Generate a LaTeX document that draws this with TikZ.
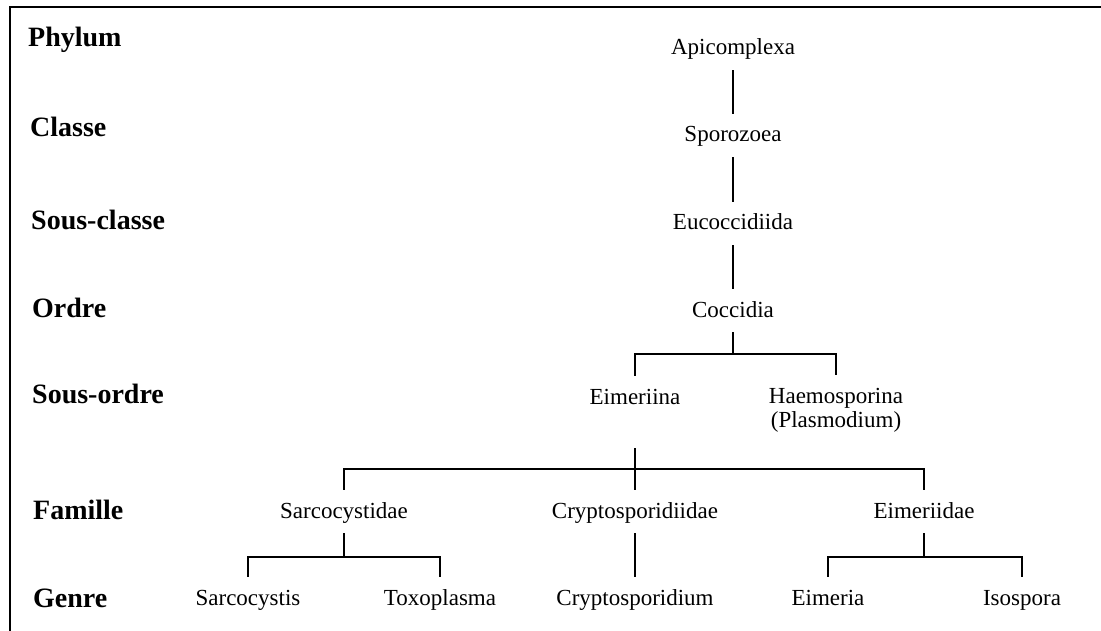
\documentclass[tikz,border=0pt]{standalone}
\usepackage{fontspec}
\setmainfont{Liberation Serif}
\begin{document}
\begin{tikzpicture}[x=1pt,y=-1pt,
  taxon/.style={font=\fontsize{23}{27}\selectfont, inner xsep=0pt, inner ysep=10pt,
    text height=18pt, text depth=5pt, anchor=base},
  rank/.style={font=\fontsize{28}{32}\selectfont\bfseries, inner sep=0pt, anchor=base west},
  link/.style={line width=1.1pt},
  frame/.style={line width=2.4pt}]
\useasboundingbox (0,0) rectangle (1101,631);
% frame
\draw[frame] (10,631) -- (10,7) -- (1101,7);
% rank labels
\node[rank] (r1) at (28,47)  {Phylum};
\node[rank] (r2) at (30,137) {Classe};
\node[rank] (r3) at (31,230) {Sous-classe};
\node[rank] (r4) at (32,317) {Ordre};
\node[rank] (r5) at (32,403) {Sous-ordre};
\node[rank] (r6) at (33,519) {Famille};
\node[rank] (r7) at (33,607) {Genre};
% taxa
\node[taxon] (api) at (733,55)  {Apicomplexa};
\node[taxon] (spo) at (733,142) {Sporozoea};
\node[taxon] (euc) at (733,230) {Eucoccidiida};
\node[taxon] (coc) at (733,317) {Coccidia};
\node[taxon] (eim) at (635,404) {Eimeriina};
\node[taxon] (hae) at (836,403) {Haemosporina};
\node[taxon] (pla) at (836,427) {(Plasmodium)};
\node[taxon] (sar) at (344,518) {Sarcocystidae};
\node[taxon] (cry) at (635,518) {Cryptosporidiidae};
\node[taxon] (eii) at (924,518) {Eimeriidae};
\node[taxon] (sis) at (248,605) {Sarcocystis};
\node[taxon] (tox) at (440,605) {Toxoplasma};
\node[taxon] (cdm) at (635,605) {Cryptosporidium};
\node[taxon] (eia) at (828,605) {Eimeria};
\node[taxon] (iso) at (1022,605) {Isospora};
% junctions
\coordinate (j1) at (733,354);
\coordinate (j2) at (635,469);
\coordinate (j3) at (344,557);
\coordinate (j4) at (924,557);
% connectors
\draw[link] (api.south) -- (spo.north);
\draw[link] (spo.south) -- (euc.north);
\draw[link] (euc.south) -- (coc.north);
\draw[link] (coc.south) -- (j1);
\draw[link] (eim.north) |- (j1) -| (hae.north);
\draw[link, shorten <=29pt] (eim.south) -- (cry.north);
\draw[link] (sar.north) |- (j2) -| (eii.north);
\draw[link] (sar.south) -- (j3);
\draw[link] (sis.north) |- (j3) -| (tox.north);
\draw[link] (cry.south) -- (cdm.north);
\draw[link] (eii.south) -- (j4);
\draw[link] (eia.north) |- (j4) -| (iso.north);
\end{tikzpicture}
\end{document}
